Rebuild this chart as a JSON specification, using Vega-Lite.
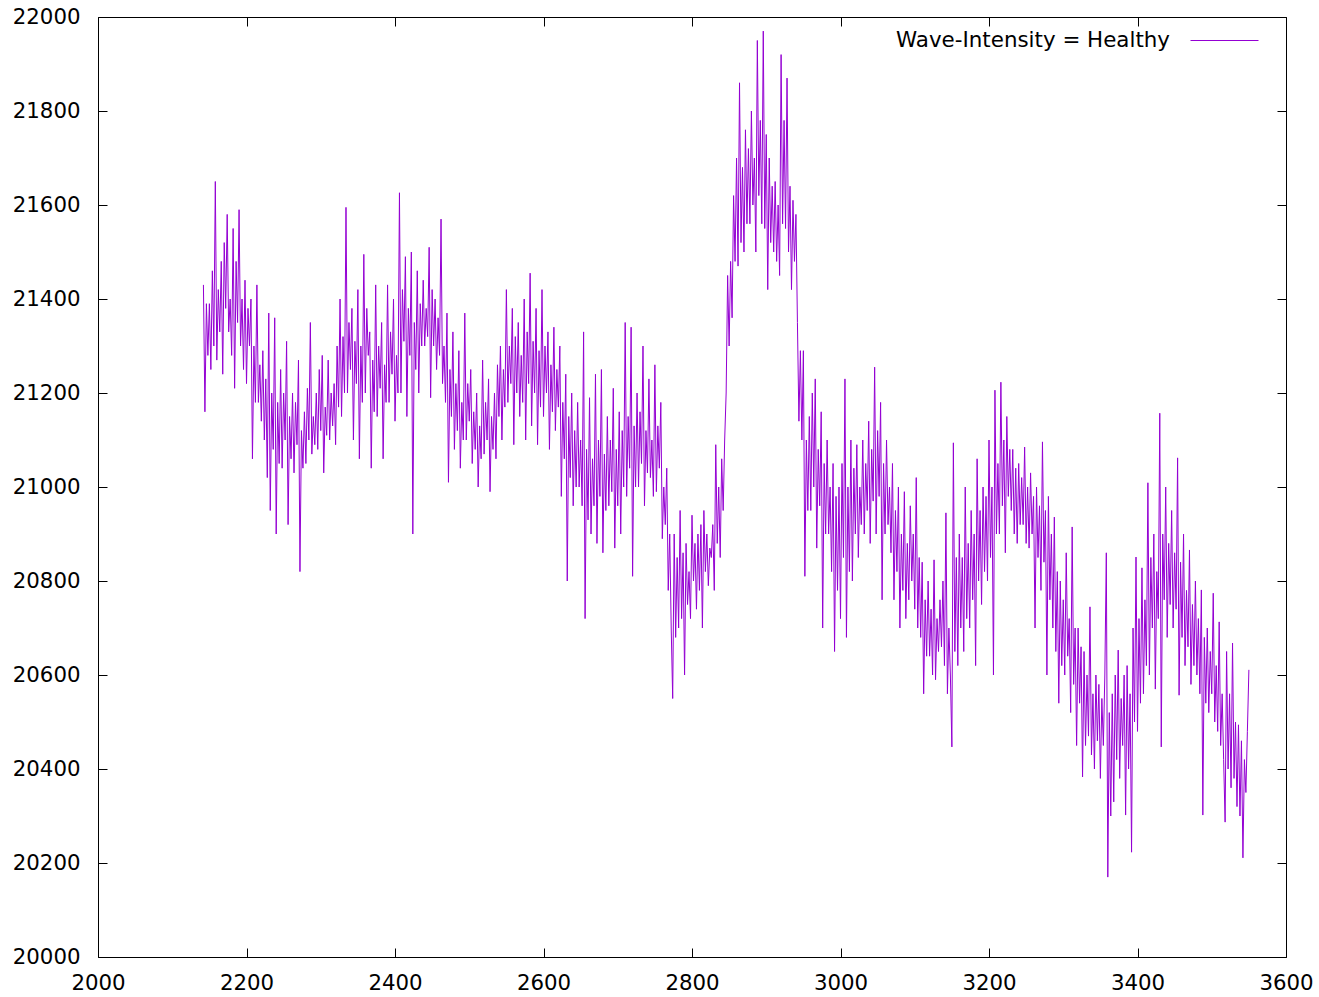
{
  "$schema": "https://vega.github.io/schema/vega-lite/v6.json",
  "width": 1188,
  "height": 940,
  "autosize": {"type": "none"},
  "padding": {"left": 98, "top": 17, "right": 33, "bottom": 40},
  "background": "white",
  "config": {
    "view": {"stroke": "black", "strokeWidth": 1},
    "font": "DejaVu Sans",
    "axis": {"grid": false, "domain": false, "title": null, "tickSize": -9, "tickColor": "black", "tickWidth": 1, "labelColor": "black", "labelFont": "DejaVu Sans", "labelFontSize": 21.3, "labelFlush": false, "labelOverlap": false}
  },
  "data": {"values": [
{"x":2142,"y":21430},{"x":2144,"y":21160},{"x":2146,"y":21390},{"x":2148,"y":21280},
{"x":2150,"y":21390},{"x":2152,"y":21250},{"x":2154,"y":21460},{"x":2156,"y":21300},
{"x":2158,"y":21650},{"x":2160,"y":21270},{"x":2162,"y":21420},{"x":2164,"y":21330},
{"x":2166,"y":21480},{"x":2168,"y":21240},{"x":2170,"y":21520},{"x":2172,"y":21380},
{"x":2174,"y":21580},{"x":2176,"y":21330},{"x":2178,"y":21400},{"x":2180,"y":21280},
{"x":2182,"y":21550},{"x":2184,"y":21210},{"x":2186,"y":21480},{"x":2188,"y":21350},
{"x":2190,"y":21590},{"x":2192,"y":21300},{"x":2194,"y":21400},{"x":2196,"y":21250},
{"x":2198,"y":21440},{"x":2200,"y":21220},{"x":2202,"y":21380},{"x":2204,"y":21300},
{"x":2206,"y":21400},{"x":2208,"y":21060},{"x":2210,"y":21300},{"x":2212,"y":21180},
{"x":2214,"y":21430},{"x":2216,"y":21180},{"x":2218,"y":21260},{"x":2220,"y":21140},
{"x":2222,"y":21290},{"x":2224,"y":21100},{"x":2226,"y":21230},{"x":2228,"y":21020},
{"x":2230,"y":21370},{"x":2232,"y":20950},{"x":2234,"y":21200},{"x":2236,"y":21080},
{"x":2238,"y":21360},{"x":2240,"y":20900},{"x":2242,"y":21180},{"x":2244,"y":21050},
{"x":2246,"y":21250},{"x":2248,"y":21040},{"x":2250,"y":21200},{"x":2252,"y":21100},
{"x":2254,"y":21310},{"x":2256,"y":20920},{"x":2258,"y":21150},{"x":2260,"y":21060},
{"x":2262,"y":21200},{"x":2264,"y":21030},{"x":2266,"y":21180},{"x":2268,"y":21090},
{"x":2270,"y":21270},{"x":2272,"y":20820},{"x":2274,"y":21120},{"x":2276,"y":21040},
{"x":2278,"y":21160},{"x":2280,"y":21050},{"x":2282,"y":21210},{"x":2284,"y":21100},
{"x":2286,"y":21350},{"x":2288,"y":21070},{"x":2290,"y":21150},{"x":2292,"y":21090},
{"x":2294,"y":21200},{"x":2296,"y":21080},{"x":2298,"y":21250},{"x":2300,"y":21120},
{"x":2302,"y":21280},{"x":2304,"y":21030},{"x":2306,"y":21170},{"x":2308,"y":21110},
{"x":2310,"y":21270},{"x":2312,"y":21100},{"x":2314,"y":21200},{"x":2316,"y":21130},
{"x":2318,"y":21220},{"x":2320,"y":21090},{"x":2322,"y":21300},{"x":2324,"y":21170},
{"x":2326,"y":21400},{"x":2328,"y":21150},{"x":2330,"y":21320},{"x":2332,"y":21200},
{"x":2334,"y":21595},{"x":2336,"y":21200},{"x":2338,"y":21350},{"x":2340,"y":21250},
{"x":2342,"y":21380},{"x":2344,"y":21100},{"x":2346,"y":21310},{"x":2348,"y":21220},
{"x":2350,"y":21420},{"x":2352,"y":21060},{"x":2354,"y":21300},{"x":2356,"y":21180},
{"x":2358,"y":21495},{"x":2360,"y":21200},{"x":2362,"y":21380},{"x":2364,"y":21280},
{"x":2366,"y":21330},{"x":2368,"y":21040},{"x":2370,"y":21270},{"x":2372,"y":21160},
{"x":2374,"y":21430},{"x":2376,"y":21150},{"x":2378,"y":21300},{"x":2380,"y":21210},
{"x":2382,"y":21350},{"x":2384,"y":21060},{"x":2386,"y":21260},{"x":2388,"y":21180},
{"x":2390,"y":21430},{"x":2392,"y":21180},{"x":2394,"y":21330},{"x":2396,"y":21240},
{"x":2398,"y":21400},{"x":2400,"y":21140},{"x":2402,"y":21280},{"x":2404,"y":21200},
{"x":2406,"y":21626},{"x":2408,"y":21200},{"x":2410,"y":21420},{"x":2412,"y":21310},
{"x":2414,"y":21490},{"x":2416,"y":21150},{"x":2418,"y":21380},{"x":2420,"y":21280},
{"x":2422,"y":21500},{"x":2424,"y":20900},{"x":2426,"y":21350},{"x":2428,"y":21250},
{"x":2430,"y":21460},{"x":2432,"y":21200},{"x":2434,"y":21390},{"x":2436,"y":21300},
{"x":2438,"y":21440},{"x":2440,"y":21300},{"x":2442,"y":21380},{"x":2444,"y":21320},
{"x":2446,"y":21510},{"x":2448,"y":21190},{"x":2450,"y":21420},{"x":2452,"y":21300},
{"x":2454,"y":21400},{"x":2456,"y":21250},{"x":2458,"y":21360},{"x":2460,"y":21280},
{"x":2462,"y":21570},{"x":2464,"y":21220},{"x":2466,"y":21300},{"x":2468,"y":21180},
{"x":2470,"y":21370},{"x":2472,"y":21010},{"x":2474,"y":21250},{"x":2476,"y":21150},
{"x":2478,"y":21330},{"x":2480,"y":21080},{"x":2482,"y":21220},{"x":2484,"y":21120},
{"x":2486,"y":21290},{"x":2488,"y":21040},{"x":2490,"y":21180},{"x":2492,"y":21100},
{"x":2494,"y":21370},{"x":2496,"y":21100},{"x":2498,"y":21220},{"x":2500,"y":21140},
{"x":2502,"y":21250},{"x":2504,"y":21050},{"x":2506,"y":21160},{"x":2508,"y":21080},
{"x":2510,"y":21200},{"x":2512,"y":21000},{"x":2514,"y":21130},{"x":2516,"y":21060},
{"x":2518,"y":21270},{"x":2520,"y":21070},{"x":2522,"y":21180},{"x":2524,"y":21100},
{"x":2526,"y":21230},{"x":2528,"y":20990},{"x":2530,"y":21150},{"x":2532,"y":21080},
{"x":2534,"y":21200},{"x":2536,"y":21060},{"x":2538,"y":21260},{"x":2540,"y":21150},
{"x":2542,"y":21300},{"x":2544,"y":21100},{"x":2546,"y":21250},{"x":2548,"y":21170},
{"x":2550,"y":21420},{"x":2552,"y":21180},{"x":2554,"y":21300},{"x":2556,"y":21220},
{"x":2558,"y":21380},{"x":2560,"y":21090},{"x":2562,"y":21320},{"x":2564,"y":21200},
{"x":2566,"y":21350},{"x":2568,"y":21150},{"x":2570,"y":21280},{"x":2572,"y":21180},
{"x":2574,"y":21400},{"x":2576,"y":21100},{"x":2578,"y":21330},{"x":2580,"y":21220},
{"x":2582,"y":21455},{"x":2584,"y":21130},{"x":2586,"y":21310},{"x":2588,"y":21200},
{"x":2590,"y":21380},{"x":2592,"y":21090},{"x":2594,"y":21290},{"x":2596,"y":21170},
{"x":2598,"y":21420},{"x":2600,"y":21150},{"x":2602,"y":21300},{"x":2604,"y":21200},
{"x":2606,"y":21330},{"x":2608,"y":21080},{"x":2610,"y":21260},{"x":2612,"y":21160},
{"x":2614,"y":21340},{"x":2616,"y":21120},{"x":2618,"y":21250},{"x":2620,"y":21170},
{"x":2622,"y":21300},{"x":2624,"y":20980},{"x":2626,"y":21180},{"x":2628,"y":21060},
{"x":2630,"y":21240},{"x":2632,"y":20800},{"x":2634,"y":21150},{"x":2636,"y":21020},
{"x":2638,"y":21200},{"x":2640,"y":20960},{"x":2642,"y":21120},{"x":2644,"y":21000},
{"x":2646,"y":21180},{"x":2648,"y":21000},{"x":2650,"y":21100},{"x":2652,"y":20960},
{"x":2654,"y":21330},{"x":2656,"y":20720},{"x":2658,"y":21080},{"x":2660,"y":20930},
{"x":2662,"y":21190},{"x":2664,"y":20900},{"x":2666,"y":21060},{"x":2668,"y":20960},
{"x":2670,"y":21240},{"x":2672,"y":20880},{"x":2674,"y":21100},{"x":2676,"y":20980},
{"x":2678,"y":21250},{"x":2680,"y":20860},{"x":2682,"y":21070},{"x":2684,"y":20950},
{"x":2686,"y":21150},{"x":2688,"y":20960},{"x":2690,"y":21100},{"x":2692,"y":20990},
{"x":2694,"y":21210},{"x":2696,"y":20870},{"x":2698,"y":21080},{"x":2700,"y":20960},
{"x":2702,"y":21160},{"x":2704,"y":20900},{"x":2706,"y":21120},{"x":2708,"y":21000},
{"x":2710,"y":21350},{"x":2712,"y":20980},{"x":2714,"y":21150},{"x":2716,"y":21040},
{"x":2718,"y":21340},{"x":2720,"y":20810},{"x":2722,"y":21130},{"x":2724,"y":21000},
{"x":2726,"y":21200},{"x":2728,"y":21000},{"x":2730,"y":21160},{"x":2732,"y":21050},
{"x":2734,"y":21300},{"x":2736,"y":20960},{"x":2738,"y":21120},{"x":2740,"y":21030},
{"x":2742,"y":21230},{"x":2744,"y":21020},{"x":2746,"y":21100},{"x":2748,"y":20980},
{"x":2750,"y":21260},{"x":2752,"y":20990},{"x":2754,"y":21130},{"x":2756,"y":21040},
{"x":2758,"y":21180},{"x":2760,"y":20890},{"x":2762,"y":21000},{"x":2764,"y":20920},
{"x":2766,"y":21040},{"x":2768,"y":20780},{"x":2770,"y":20900},{"x":2772,"y":20700},
{"x":2774,"y":20550},{"x":2776,"y":20900},{"x":2778,"y":20680},{"x":2780,"y":20850},
{"x":2782,"y":20700},{"x":2784,"y":20950},{"x":2786,"y":20720},{"x":2788,"y":20860},
{"x":2790,"y":20600},{"x":2792,"y":20880},{"x":2794,"y":20750},{"x":2796,"y":20820},
{"x":2798,"y":20720},{"x":2800,"y":20940},{"x":2802,"y":20800},{"x":2804,"y":20880},
{"x":2806,"y":20740},{"x":2808,"y":20900},{"x":2810,"y":20780},{"x":2812,"y":20920},
{"x":2814,"y":20700},{"x":2816,"y":20950},{"x":2818,"y":20820},{"x":2820,"y":20900},
{"x":2822,"y":20790},{"x":2824,"y":20870},{"x":2826,"y":20850},{"x":2828,"y":20920},
{"x":2830,"y":20780},{"x":2832,"y":21090},{"x":2834,"y":20880},{"x":2836,"y":21000},
{"x":2838,"y":20850},{"x":2840,"y":21060},{"x":2842,"y":20950},{"x":2844,"y":21100},
{"x":2846,"y":21200},{"x":2848,"y":21450},{"x":2850,"y":21300},{"x":2852,"y":21480},
{"x":2854,"y":21360},{"x":2856,"y":21620},{"x":2858,"y":21480},{"x":2860,"y":21700},
{"x":2862,"y":21470},{"x":2864,"y":21860},{"x":2866,"y":21520},{"x":2868,"y":21680},
{"x":2870,"y":21500},{"x":2872,"y":21760},{"x":2874,"y":21560},{"x":2876,"y":21720},
{"x":2878,"y":21560},{"x":2880,"y":21800},{"x":2882,"y":21600},{"x":2884,"y":21700},
{"x":2886,"y":21500},{"x":2888,"y":21950},{"x":2890,"y":21620},{"x":2892,"y":21780},
{"x":2894,"y":21560},{"x":2896,"y":21970},{"x":2898,"y":21550},{"x":2900,"y":21750},
{"x":2902,"y":21420},{"x":2904,"y":21700},{"x":2906,"y":21520},{"x":2908,"y":21640},
{"x":2910,"y":21500},{"x":2912,"y":21650},{"x":2914,"y":21480},{"x":2916,"y":21600},
{"x":2918,"y":21450},{"x":2920,"y":21920},{"x":2922,"y":21560},{"x":2924,"y":21780},
{"x":2926,"y":21550},{"x":2928,"y":21870},{"x":2930,"y":21500},{"x":2932,"y":21640},
{"x":2934,"y":21420},{"x":2936,"y":21610},{"x":2938,"y":21480},{"x":2940,"y":21580},
{"x":2942,"y":21350},{"x":2944,"y":21140},{"x":2946,"y":21290},{"x":2948,"y":21100},
{"x":2950,"y":21290},{"x":2952,"y":20810},{"x":2954,"y":21100},{"x":2956,"y":20950},
{"x":2958,"y":21150},{"x":2960,"y":20950},{"x":2962,"y":21200},{"x":2964,"y":21000},
{"x":2966,"y":21230},{"x":2968,"y":20870},{"x":2970,"y":21080},{"x":2972,"y":20960},
{"x":2974,"y":21160},{"x":2976,"y":20700},{"x":2978,"y":21050},{"x":2980,"y":20900},
{"x":2982,"y":21100},{"x":2984,"y":20900},{"x":2986,"y":21000},{"x":2988,"y":20820},
{"x":2990,"y":21050},{"x":2992,"y":20650},{"x":2994,"y":20980},{"x":2996,"y":20780},
{"x":2998,"y":21000},{"x":3000,"y":20720},{"x":3002,"y":21050},{"x":3004,"y":20850},
{"x":3006,"y":21230},{"x":3008,"y":20680},{"x":3010,"y":21000},{"x":3012,"y":20820},
{"x":3014,"y":21100},{"x":3016,"y":20800},{"x":3018,"y":21040},{"x":3020,"y":20900},
{"x":3022,"y":21090},{"x":3024,"y":20850},{"x":3026,"y":21000},{"x":3028,"y":20920},
{"x":3030,"y":21100},{"x":3032,"y":20900},{"x":3034,"y":21050},{"x":3036,"y":20950},
{"x":3038,"y":21140},{"x":3040,"y":20880},{"x":3042,"y":21080},{"x":3044,"y":20970},
{"x":3046,"y":21255},{"x":3048,"y":20900},{"x":3050,"y":21120},{"x":3052,"y":20980},
{"x":3054,"y":21180},{"x":3056,"y":20760},{"x":3058,"y":21050},{"x":3060,"y":20900},
{"x":3062,"y":21100},{"x":3064,"y":20920},{"x":3066,"y":21000},{"x":3068,"y":20860},
{"x":3070,"y":21050},{"x":3072,"y":20760},{"x":3074,"y":20950},{"x":3076,"y":20820},
{"x":3078,"y":21000},{"x":3080,"y":20700},{"x":3082,"y":20900},{"x":3084,"y":20780},
{"x":3086,"y":20990},{"x":3088,"y":20720},{"x":3090,"y":20880},{"x":3092,"y":20760},
{"x":3094,"y":20960},{"x":3096,"y":20800},{"x":3098,"y":20900},{"x":3100,"y":20740},
{"x":3102,"y":21020},{"x":3104,"y":20700},{"x":3106,"y":20850},{"x":3108,"y":20680},
{"x":3110,"y":20840},{"x":3112,"y":20560},{"x":3114,"y":20760},{"x":3116,"y":20640},
{"x":3118,"y":20800},{"x":3120,"y":20640},{"x":3122,"y":20740},{"x":3124,"y":20600},
{"x":3126,"y":20845},{"x":3128,"y":20590},{"x":3130,"y":20720},{"x":3132,"y":20650},
{"x":3134,"y":20760},{"x":3136,"y":20660},{"x":3138,"y":20800},{"x":3140,"y":20620},
{"x":3142,"y":20945},{"x":3144,"y":20560},{"x":3146,"y":20700},{"x":3148,"y":20600},
{"x":3150,"y":20447},{"x":3152,"y":21094},{"x":3154,"y":20650},{"x":3156,"y":20850},
{"x":3158,"y":20620},{"x":3160,"y":20900},{"x":3162,"y":20700},{"x":3164,"y":20850},
{"x":3166,"y":20650},{"x":3168,"y":21000},{"x":3170,"y":20720},{"x":3172,"y":20880},
{"x":3174,"y":20700},{"x":3176,"y":20950},{"x":3178,"y":20760},{"x":3180,"y":20900},
{"x":3182,"y":20620},{"x":3184,"y":21060},{"x":3186,"y":20800},{"x":3188,"y":20950},
{"x":3190,"y":20750},{"x":3192,"y":21000},{"x":3194,"y":20820},{"x":3196,"y":20980},
{"x":3198,"y":20800},{"x":3200,"y":21100},{"x":3202,"y":20850},{"x":3204,"y":21000},
{"x":3206,"y":20600},{"x":3208,"y":21206},{"x":3210,"y":20900},{"x":3212,"y":21050},
{"x":3214,"y":20900},{"x":3216,"y":21223},{"x":3218,"y":20960},{"x":3220,"y":21100},
{"x":3222,"y":20860},{"x":3224,"y":21150},{"x":3226,"y":20980},{"x":3228,"y":21080},
{"x":3230,"y":20950},{"x":3232,"y":21080},{"x":3234,"y":20900},{"x":3236,"y":21040},
{"x":3238,"y":20880},{"x":3240,"y":21050},{"x":3242,"y":20920},{"x":3244,"y":21020},
{"x":3246,"y":20920},{"x":3248,"y":21085},{"x":3250,"y":20880},{"x":3252,"y":21000},
{"x":3254,"y":20870},{"x":3256,"y":21030},{"x":3258,"y":20900},{"x":3260,"y":20980},
{"x":3262,"y":20700},{"x":3264,"y":21000},{"x":3266,"y":20850},{"x":3268,"y":20960},
{"x":3270,"y":20780},{"x":3272,"y":21096},{"x":3274,"y":20840},{"x":3276,"y":20950},
{"x":3278,"y":20600},{"x":3280,"y":20980},{"x":3282,"y":20760},{"x":3284,"y":20900},
{"x":3286,"y":20700},{"x":3288,"y":20936},{"x":3290,"y":20650},{"x":3292,"y":20820},
{"x":3294,"y":20540},{"x":3296,"y":20800},{"x":3298,"y":20620},{"x":3300,"y":20760},
{"x":3302,"y":20600},{"x":3304,"y":20860},{"x":3306,"y":20640},{"x":3308,"y":20720},
{"x":3310,"y":20520},{"x":3312,"y":20915},{"x":3314,"y":20580},{"x":3316,"y":20700},
{"x":3318,"y":20450},{"x":3320,"y":20700},{"x":3322,"y":20540},{"x":3324,"y":20660},
{"x":3326,"y":20383},{"x":3328,"y":20650},{"x":3330,"y":20450},{"x":3332,"y":20600},
{"x":3334,"y":20470},{"x":3336,"y":20745},{"x":3338,"y":20430},{"x":3340,"y":20560},
{"x":3342,"y":20400},{"x":3344,"y":20600},{"x":3346,"y":20460},{"x":3348,"y":20580},
{"x":3350,"y":20380},{"x":3352,"y":20550},{"x":3354,"y":20450},{"x":3356,"y":20600},
{"x":3358,"y":20860},{"x":3360,"y":20170},{"x":3362,"y":20520},{"x":3364,"y":20300},
{"x":3366,"y":20560},{"x":3368,"y":20330},{"x":3370,"y":20600},{"x":3372,"y":20420},
{"x":3374,"y":20653},{"x":3376,"y":20380},{"x":3378,"y":20550},{"x":3380,"y":20450},
{"x":3382,"y":20600},{"x":3384,"y":20302},{"x":3386,"y":20620},{"x":3388,"y":20400},
{"x":3390,"y":20560},{"x":3392,"y":20223},{"x":3394,"y":20700},{"x":3396,"y":20500},
{"x":3398,"y":20851},{"x":3400,"y":20480},{"x":3402,"y":20720},{"x":3404,"y":20540},
{"x":3406,"y":20828},{"x":3408,"y":20560},{"x":3410,"y":20760},{"x":3412,"y":20620},
{"x":3414,"y":21009},{"x":3416,"y":20600},{"x":3418,"y":20850},{"x":3420,"y":20700},
{"x":3422,"y":20900},{"x":3424,"y":20570},{"x":3426,"y":20820},{"x":3428,"y":20720},
{"x":3430,"y":21157},{"x":3432,"y":20447},{"x":3434,"y":20900},{"x":3436,"y":20760},
{"x":3438,"y":21000},{"x":3440,"y":20680},{"x":3442,"y":20880},{"x":3444,"y":20750},
{"x":3446,"y":20950},{"x":3448,"y":20700},{"x":3450,"y":20860},{"x":3452,"y":20740},
{"x":3454,"y":21062},{"x":3456,"y":20557},{"x":3458,"y":20840},{"x":3460,"y":20680},
{"x":3462,"y":20900},{"x":3464,"y":20620},{"x":3466,"y":20780},{"x":3468,"y":20660},
{"x":3470,"y":20866},{"x":3472,"y":20580},{"x":3474,"y":20750},{"x":3476,"y":20620},
{"x":3478,"y":20800},{"x":3480,"y":20600},{"x":3482,"y":20720},{"x":3484,"y":20560},
{"x":3486,"y":20781},{"x":3488,"y":20302},{"x":3490,"y":20680},{"x":3492,"y":20540},
{"x":3494,"y":20700},{"x":3496,"y":20520},{"x":3498,"y":20650},{"x":3500,"y":20560},
{"x":3502,"y":20774},{"x":3504,"y":20500},{"x":3506,"y":20620},{"x":3508,"y":20480},
{"x":3510,"y":20713},{"x":3512,"y":20450},{"x":3514,"y":20560},{"x":3516,"y":20420},
{"x":3518,"y":20287},{"x":3520,"y":20650},{"x":3522,"y":20400},{"x":3524,"y":20560},
{"x":3526,"y":20360},{"x":3528,"y":20668},{"x":3530,"y":20380},{"x":3532,"y":20500},
{"x":3534,"y":20320},{"x":3536,"y":20494},{"x":3538,"y":20300},{"x":3540,"y":20460},
{"x":3542,"y":20211},{"x":3544,"y":20420},{"x":3546,"y":20350},{"x":3548,"y":20480},
{"x":3550,"y":20611}
  ]},
  "layer": [
    {
      "mark": {"type": "line", "strokeWidth": 1, "clip": true},
      "encoding": {
        "x": {"field": "x", "type": "quantitative", "scale": {"domain": [2000, 3600], "nice": false, "zero": false},
              "axis": {"orient": "bottom", "values": [2000,2200,2400,2600,2800,3000,3200,3400,3600], "format": "d", "labelPadding": 24}},
        "y": {"field": "y", "type": "quantitative", "scale": {"domain": [20000, 22000], "nice": false, "zero": false},
              "axis": {"orient": "left", "values": [20000,20200,20400,20600,20800,21000,21200,21400,21600,21800,22000], "format": "d", "labelPadding": 27}},
        "color": {"datum": "Wave-Intensity = Healthy", "type": "nominal", "scale": {"range": ["#9400d3"]},
                  "legend": {"title": null, "orient": "none", "legendX": 1092, "legendY": -11, "padding": 0,
                             "symbolType": "stroke", "symbolSize": 4624, "symbolStrokeWidth": 1,
                             "labelFontSize": 21.4, "labelFont": "DejaVu Sans", "labelColor": "black", "labelLimit": 0,
                             "labelAlign": "right", "labelOffset": -89}}
      }
    },
    {
      "mark": {"type": "line", "opacity": 0},
      "encoding": {
        "x": {"field": "x", "type": "quantitative", "axis": {"orient": "top", "values": [2000,2200,2400,2600,2800,3000,3200,3400,3600], "labels": false}},
        "y": {"field": "y", "type": "quantitative", "axis": {"orient": "right", "values": [20000,20200,20400,20600,20800,21000,21200,21400,21600,21800,22000], "labels": false}}
      }
    }
  ],
  "resolve": {"axis": {"x": "independent", "y": "independent"}}
}
